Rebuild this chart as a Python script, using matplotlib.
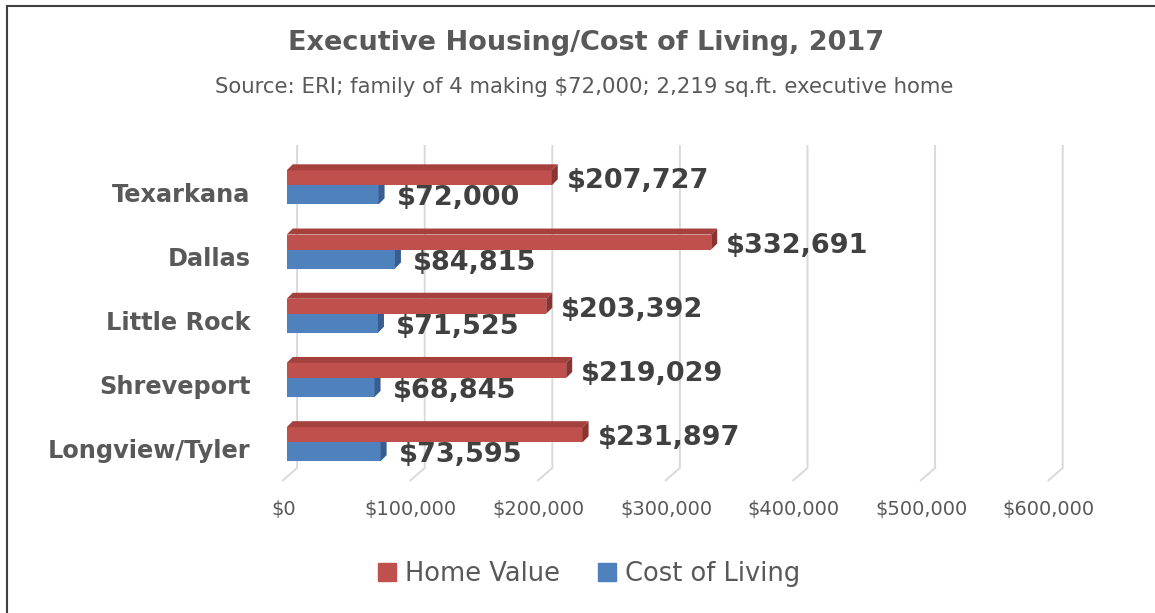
import matplotlib
matplotlib.use("Agg")
import matplotlib.pyplot as plt
from matplotlib.lines import Line2D
from matplotlib.patches import Patch, Polygon
from matplotlib.transforms import ScaledTranslation

# ------------------------------------------------------------------ #
# Data
# ------------------------------------------------------------------ #
cities = ["Texarkana", "Dallas", "Little Rock", "Shreveport", "Longview/Tyler"]
home_value = [207727, 332691, 203392, 219029, 231897]
cost_of_living = [72000, 84815, 71525, 68845, 73595]
x_ticks = [0, 100000, 200000, 300000, 400000, 500000, 600000]

TITLE = "Executive Housing/Cost of Living, 2017"
SUBTITLE = "Source: ERI; family of 4 making $72,000; 2,219 sq.ft. executive home"

# ------------------------------------------------------------------ #
# Style
# ------------------------------------------------------------------ #
RED, RED_TOP, RED_SIDE = "#C0504D", "#A5403D", "#8A3331"
BLUE, BLUE_SIDE = "#4F81BD", "#375E8E"
GRID = "#D9D9D9"
TEXT = "#595959"
LABEL = "#404040"

W, H = 1155, 613
fig = plt.figure(figsize=(W / 100, H / 100), dpi=100)

# plot area in pixels
ax_l, ax_r, ax_t, ax_b = 286.7, 1052.3, 145.0, 481.0
ax = fig.add_axes([ax_l / W, 1 - ax_b / H, (ax_r - ax_l) / W, (ax_b - ax_t) / H])
xmax = 600000
ylim = (4.5, -0.732)
ax.set_xlim(0, xmax)
ax.set_ylim(*ylim)

# pixel -> data conversions for the fake 3D depth
px_x = xmax / (ax_r - ax_l)
px_y = (ylim[0] - ylim[1]) / (ax_b - ax_t)

# back-wall gridlines with a floor slant toward the front
for v in x_ticks:
    xb = v + 10.4 * px_x
    y_top = ylim[1]
    y_floor = ylim[1] + (468 - ax_t) * px_y
    ax.plot([xb, xb, xb - 15 * px_x], [y_top, y_floor, ylim[0]],
            color=GRID, lw=1.4, solid_capstyle="butt", zorder=1, clip_on=False)

depth = 6.0
red_h = 15 * px_y
blue_h = 19 * px_y
dx, dy = depth * px_x, depth * px_y

for i, (hv, cl) in enumerate(zip(home_value, cost_of_living)):
    b = i - 6.7 * px_y  # boundary between red and blue bar

    # blue (cost of living)
    ax.barh(b + blue_h / 2, cl, height=blue_h, color=BLUE, zorder=3)
    ax.add_patch(Polygon([(cl, b), (cl + dx, b - dy), (cl + dx, b + blue_h - dy),
                          (cl, b + blue_h)], closed=True, color=BLUE_SIDE, lw=0, zorder=3))

    # red (home value)
    top = b - red_h
    ax.barh(b - red_h / 2, hv, height=red_h, color=RED, zorder=4)
    ax.add_patch(Polygon([(0, top), (hv, top), (hv + dx, top - dy), (dx, top - dy)],
                         closed=True, color=RED_TOP, lw=0, zorder=4))
    ax.add_patch(Polygon([(hv, top), (hv + dx, top - dy), (hv + dx, b - dy), (hv, b)],
                         closed=True, color=RED_SIDE, lw=0, zorder=4))

    ax.text(hv + dx + 9 * px_x, b - 4 * px_y, f"${hv:,}", ha="left", va="center",
            fontsize=19.5, fontweight="bold", color=LABEL, zorder=5)
    ax.text(cl + dx + 12 * px_x, b + 13 * px_y, f"${cl:,}", ha="left", va="center",
            fontsize=19.5, fontweight="bold", color=LABEL, zorder=5)

# axes cosmetics
for s in ax.spines.values():
    s.set_visible(False)
ax.set_xticks(x_ticks)
ax.set_xticklabels([f"${v:,}" for v in x_ticks], fontsize=14, color=TEXT)
ax.set_yticks(range(len(cities)))
ax.set_yticklabels(cities, fontsize=17.3, fontweight="bold", color=TEXT)
ax.tick_params(axis="x", length=0, pad=14)
ax.tick_params(axis="y", length=0, pad=26)
shift = ScaledTranslation(-3.5 / 100, 0, fig.dpi_scale_trans)
for lab in ax.get_xticklabels():
    lab.set_transform(lab.get_transform() + shift)

# titles
fig.text(586 / W, 1 - 50 / H, TITLE, ha="center", va="baseline",
         fontsize=19.5, fontweight="bold", color=TEXT)
fig.text(584.5 / W, 1 - 93 / H, SUBTITLE, ha="center", va="baseline",
         fontsize=15.3, color=TEXT)

# legend
handles = [Patch(color=RED, label="Home Value"), Patch(color=BLUE, label="Cost of Living")]
fig.legend(handles=handles, loc="center", bbox_to_anchor=(589 / W, 1 - 574 / H),
           ncol=2, frameon=False, fontsize=18.5, handlelength=0.7, handleheight=0.7,
           handletextpad=0.35, columnspacing=1.5, labelcolor=TEXT)

# chart border (left and top edges only)
fig.add_artist(Line2D([7 / W, 7 / W], [0, 1 - 6 / H], color="#404040", lw=1.5))
fig.add_artist(Line2D([7 / W, 1], [1 - 6 / H, 1 - 6 / H], color="#404040", lw=1.5))

fig.savefig("out.png", dpi=100)
